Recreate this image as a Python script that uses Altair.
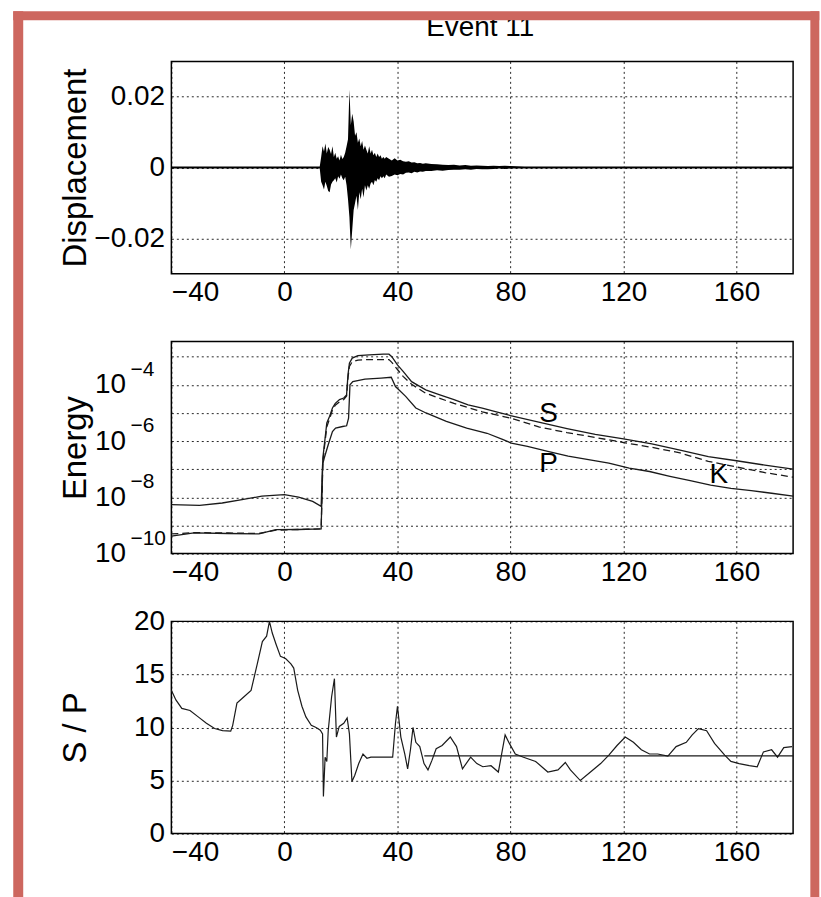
import altair as alt
import pandas as pd

# ---------------- data ----------------
# Panel 1: displacement envelope (upper / lower excursions of the trace)
disp_t = [-40, -20, 0, 12.5, 13.0, 13.5, 14.0, 14.5, 15.0, 15.5,
          16.0, 16.5, 17.0, 17.5, 18.0, 18.5, 19.0, 19.5, 20.0, 20.5,
          21.0, 21.5, 22.0, 22.5, 23.0, 23.5, 24.0, 24.5, 25.0, 25.5,
          26.0, 26.5, 27.0, 27.5, 28.0, 28.5, 29.0, 29.5, 30.0, 30.5,
          31.0, 31.5, 32.0, 32.5, 33.0, 33.5, 34.0, 34.5, 35.0, 35.5,
          36.0, 37, 38, 39, 40, 41, 42, 43, 44, 45,
          46, 47, 48, 49, 50, 52, 54, 56, 58, 60,
          62, 64, 66, 68, 70, 72, 74, 76, 78, 80,
          85, 90, 100, 120, 140, 160, 180]
disp_hi = [0.0003, 0.0003, 0.0003, 0.0003, 0.0030, 0.0060, 0.0045, 0.0068, 0.0040, 0.0058,
           0.0050, 0.0038, 0.0060, 0.0030, 0.0042, 0.0025, 0.0032, 0.0020, 0.0036, 0.0024,
           0.0030, 0.0042, 0.0060, 0.0080, 0.0220, 0.0120, 0.0152, 0.0130, 0.0090, 0.0100,
           0.0070, 0.0082, 0.0060, 0.0075, 0.0050, 0.0062, 0.0050, 0.0040, 0.0060, 0.0040,
           0.0050, 0.0035, 0.0042, 0.0030, 0.0040, 0.0030, 0.0035, 0.0025, 0.0030, 0.0025,
           0.0030, 0.0025, 0.0020, 0.0026, 0.0020, 0.0022, 0.0018, 0.0016, 0.0018, 0.0014,
           0.0015, 0.0012, 0.0013, 0.0011, 0.0012, 0.0010, 0.0009, 0.0008, 0.0007, 0.0008,
           0.0006, 0.0007, 0.0005, 0.0006, 0.0005, 0.0004, 0.0005, 0.0004, 0.0005, 0.0004,
           0.0003, 0.0003, 0.0003, 0.0003, 0.0003, 0.0003, 0.0003]
disp_lo = [-0.0003, -0.0003, -0.0003, -0.0003, -0.0040, -0.0050, -0.0062, -0.0040, -0.0052, -0.0066,
           -0.0070, -0.0048, -0.0040, -0.0036, -0.0030, -0.0042, -0.0025, -0.0032, -0.0020, -0.0030,
           -0.0036, -0.0026, -0.0050, -0.0090, -0.0140, -0.0232, -0.0176, -0.0120, -0.0100, -0.0080,
           -0.0120, -0.0070, -0.0090, -0.0060, -0.0085, -0.0050, -0.0065, -0.0050, -0.0060, -0.0045,
           -0.0040, -0.0050, -0.0035, -0.0040, -0.0030, -0.0036, -0.0025, -0.0030, -0.0025, -0.0030,
           -0.0020, -0.0026, -0.0024, -0.0020, -0.0022, -0.0018, -0.0020, -0.0015, -0.0014, -0.0016,
           -0.0012, -0.0014, -0.0011, -0.0012, -0.0010, -0.0010, -0.0008, -0.0009, -0.0007, -0.0006,
           -0.0006, -0.0005, -0.0006, -0.0004, -0.0005, -0.0005, -0.0004, -0.0003, -0.0004, -0.0003,
           -0.0003, -0.0003, -0.0003, -0.0003, -0.0003, -0.0003, -0.0003]

# Panel 2: energies
s_t = [-40, -32, -20, -9, -3, 5, 13, 13.6, 14, 15, 16, 17, 18, 19.5, 21, 22, 22.5, 23, 24, 26,
       30, 35, 37, 38, 40, 42, 45, 50, 55, 60, 65, 70, 75, 80, 90, 100, 110, 120, 130, 140,
       150, 160, 170, 180]
s_e = [4.2e-10, 5.5e-10, 5.2e-10, 5.0e-10, 7.1e-10, 7.2e-10, 7.6e-10, 2.5e-7, 5.6e-7, 4.4e-6,
       7.6e-6, 1.5e-5, 2.2e-5, 3.0e-5, 3.4e-5, 4.4e-5, 2.3e-4, 5.9e-4, 8.9e-4, 1.1e-3,
       1.17e-3, 1.23e-3, 1.23e-3, 1.0e-3, 5.1e-4, 3.0e-4, 1.3e-4, 6.6e-5, 4.4e-5, 3.0e-5,
       1.95e-5, 1.5e-5, 1.1e-5, 8.1e-6, 4.7e-6, 2.8e-6, 1.74e-6, 1.2e-6, 7.9e-7, 4.8e-7,
       2.8e-7, 2.0e-7, 1.4e-7, 1.0e-7]
k_t = [-40, -32, -20, -9, -3, 5, 13, 13.6, 14, 15, 16, 17, 18, 19.5, 21, 22, 22.5, 23, 24, 26,
       30, 37, 38, 40, 42, 45, 50, 55, 60, 70, 80, 90, 100, 110, 120, 130, 140, 150, 160, 170,
       180]
k_e = [5.0e-10, 5.6e-10, 5.4e-10, 5.2e-10, 6.8e-10, 7.2e-10, 7.6e-10, 1.6e-7, 4.5e-7, 3.2e-6,
       6.3e-6, 1.26e-5, 1.9e-5, 2.5e-5, 3.0e-5, 4.0e-5, 1.8e-4, 4.5e-4, 6.6e-4, 7.6e-4,
       7.9e-4, 7.9e-4, 6.3e-4, 3.5e-4, 2.0e-4, 1.05e-4, 5.0e-5, 3.3e-5, 2.2e-5, 1.1e-5,
       6.6e-6, 3.2e-6, 2.0e-6, 1.35e-6, 8.9e-7, 6.0e-7, 3.8e-7, 1.9e-7, 1.2e-7, 7.6e-8,
       5.2e-8]
p_t = [-40, -30, -22, -15, -8, 0, 5, 10, 13, 13.5, 14.1, 15.5, 17, 18.1, 20.6, 22, 22.7, 23.2,
       24.2, 28.5, 34.2, 37.8, 39.3, 42.9, 46.5, 50.1, 57.3, 64.5, 71.7, 77.4, 80.3, 86, 93.2,
       100.4, 107.6, 114.8, 122, 129.2, 136.4, 143.6, 150.8, 158, 165.2, 172.4, 180]
p_e = [5.5e-9, 5.2e-9, 6.3e-9, 8.3e-9, 1.1e-8, 1.26e-8, 1.02e-8, 7.2e-9, 4.8e-9, 1.45e-7,
       2.5e-7, 7.4e-7, 2.2e-6, 2.9e-6, 3.3e-6, 3.5e-6, 6.6e-6, 1.0e-4, 1.3e-4, 1.6e-4,
       1.74e-4, 1.86e-4, 8.7e-5, 3.9e-5, 1.5e-5, 1.0e-5, 5.0e-6, 2.9e-6, 1.9e-6, 1.12e-6,
       8.5e-7, 6.5e-7, 4.3e-7, 2.9e-7, 2.2e-7, 1.66e-7, 1.1e-7, 8.3e-8, 5.6e-8, 3.9e-8,
       2.7e-8, 2.1e-8, 1.74e-8, 1.4e-8, 1.1e-8]
lab_text = ["S", "P", "K"]
lab_t = [93.5, 93.5, 153.7]
lab_e = [9.3e-6, 1.5e-7, 6.3e-8]

# energy tick labels: base "10" with exponent
exp_vals = [1e-4, 1e-6, 1e-8, 1e-10]
exp_text = ["\u22124", "\u22126", "\u22128", "\u221210"]

# Panel 3: S / P ratio
sp_t = [-40.0, -38.4, -36.3, -33.4, -30.5, -27.6, -24.7, -21.9, -19.0, -18.3,
        -16.8, -14.7, -11.8, -9.6, -7.8, -6.3, -5.3, -4.3, -2.9, -1.4,
        0.4, 2.3, 3.3, 4.7, 6.2, 7.6, 9.5, 11.2, 12.7, 13.5,
        13.8, 14.4, 15.0, 15.5, 16.7, 17.7, 18.4, 19.4, 21.0, 22.2,
        23.0, 23.9, 24.9, 26.3, 27.8, 29.2, 30.6, 34.2, 38.3, 39.3,
        40.0, 41.2, 42.6, 43.6, 44.6, 45.5, 46.5, 47.9, 49.4, 50.8,
        52.2, 53.7, 55.8, 58.7, 60.9, 63.0, 65.9, 68.1, 70.2, 73.1,
        75.7, 78.1, 79.6, 81.7, 84.6, 88.9, 93.2, 96.8, 99.4, 101.2,
        104.7, 108.3, 111.9, 114.8, 117.7, 120.6, 123.5, 126.3, 129.2, 132.1,
        135.7, 138.6, 142.2, 144.3, 146.5, 149.4, 152.2, 155.8, 158.0, 160.9,
        164.5, 167.3, 169.5, 172.4, 174.5, 176.7, 179.6]
sp_v = [13.5, 12.6, 11.8, 11.6, 11.0, 10.4, 9.9, 9.7, 9.65, 10.2,
        12.3, 12.8, 13.5, 16.0, 18.1, 18.6, 20.0, 18.9, 17.8, 16.7,
        16.5, 16.0, 15.6, 13.5, 12.0, 11.0, 10.2, 10.0, 9.75, 9.4,
        3.5, 7.2, 6.8, 9.7, 12.9, 14.6, 9.1, 10.1, 10.4, 10.9,
        9.4, 4.9, 5.5, 6.6, 7.5, 7.1, 7.2, 7.2, 7.2, 10.4,
        12.0, 9.1, 7.5, 6.1, 7.9, 10.0, 8.6, 8.2, 6.6, 6.0,
        6.9, 8.0, 8.3, 9.1, 8.2, 6.1, 7.2, 6.6, 6.3, 6.4,
        5.8, 9.3, 8.5, 7.5, 7.2, 6.8, 5.8, 6.0, 6.7, 6.0,
        5.0, 5.8, 6.6, 7.4, 8.3, 9.1, 8.6, 7.9, 7.5, 7.5,
        7.3, 8.2, 8.6, 9.3, 9.9, 9.7, 8.5, 7.4, 6.8, 6.6,
        6.4, 6.3, 7.7, 7.9, 7.2, 8.1, 8.2]
mean_t = [49.5, 180]
mean_v = [7.33, 7.33]

# ---------------- styling ----------------
FONT = "Liberation Sans"
RED = "#cd675f"
INK = "#1a1a1a"
W, H = 624, 213
XDOM = [-40, 180]
X_TICKS = [-40, 0, 40, 80, 120, 160]

# page frame, in pixels relative to the top-left corner of the first plot
PX0, PY0 = -170.7, -58.3          # page corner
PX1, PY1 = 650.3, 838.7           # page far corner (821 x 897 page)


def x_enc():
    return alt.X(
        "t:Q",
        scale=alt.Scale(domain=XDOM, nice=False, zero=False),
        axis=alt.Axis(
            values=X_TICKS, title=None, labelPadding=5,
            labelExpr="datum.value < 0 ? '\u2212' + abs(datum.value) : '' + datum.value",
        ),
    )


def y_axis(title, values, label_expr, pad=7):
    return alt.Axis(
        values=values, title=title, labelExpr=label_expr, labelPadding=pad,
        titleX=-86, titleY=H / 2, titleAngle=270, titleBaseline="alphabetic",
        titleAlign="center",
    )


# ---- panel 1 ----
df_disp = pd.DataFrame({"t": disp_t, "hi": disp_hi, "lo": disp_lo})
disp = alt.Chart(df_disp).mark_area(color="black", interpolate="linear").encode(
    x=x_enc(),
    y=alt.Y("lo:Q", scale=alt.Scale(domain=[-0.03, 0.03], nice=False),
            axis=y_axis("Displacement", [-0.02, 0, 0.02],
                        "datum.value == 0 ? '0' : (datum.value < 0 ? '\u22120.02' : '0.02')")),
    y2="hi:Q",
)

one = pd.DataFrame({"k": [0], "title": ["Event 11"]})
title_txt = alt.Chart(one).mark_text(
    font=FONT, fontSize=28, color="black", baseline="alphabetic", align="center"
).encode(x=alt.value(310), y=alt.value(-26), text="title:N")


def frame_rect(x, x2, y, y2, color):
    return alt.Chart(one).mark_rect(color=color, strokeWidth=0).encode(
        x=alt.value(x), x2=alt.value(x2), y=alt.value(y), y2=alt.value(y2))


# white page margins (fix the page extent) and red frame on top
page_top = frame_rect(PX0, PX1, PY0, PY0 + 8, "white")
page_left = frame_rect(PX0, PX0 + 12, PY0, PY1, "white")
border_left = frame_rect(PX0 + 12, PX0 + 22, PY0 + 8, PY1, RED)
border_right = frame_rect(PX1 - 9, PX1, PY0 + 8, PY1, RED)
border_top = frame_rect(PX0 + 12, PX1, PY0 + 8, PY0 + 17, RED)

panel1 = alt.layer(disp, title_txt, page_top, page_left,
                   border_left, border_right, border_top).properties(width=W, height=H)

# ---- panel 2 ----
E_TICKS = [1e-10, 1e-9, 1e-8, 1e-7, 1e-6, 1e-5, 1e-4, 1e-3]
e_label = "(round(log(datum.value)/LN10) % 2 == 0) ? '10' : ''"
y_scale_e = alt.Scale(type="log", domain=[1e-10, 3.5e-3], nice=False)
e_axis = y_axis("Energy", E_TICKS, e_label, pad=46)
y_e = alt.Y("E:Q", scale=y_scale_e, axis=e_axis)

s_line = alt.Chart(pd.DataFrame({"t": s_t, "E": s_e})).mark_line(
    color=INK, strokeWidth=1.3).encode(x=x_enc(), y=y_e)
k_line = alt.Chart(pd.DataFrame({"t": k_t, "E": k_e})).mark_line(
    color=INK, strokeWidth=1.3, strokeDash=[7, 4]).encode(x=x_enc(), y=y_e)
p_line = alt.Chart(pd.DataFrame({"t": p_t, "E": p_e})).mark_line(
    color=INK, strokeWidth=1.3).encode(x=x_enc(), y=y_e)
labels = alt.Chart(pd.DataFrame({"t": lab_t, "E": lab_e, "lab": lab_text})).mark_text(
    font=FONT, fontSize=28, color="black", baseline="middle", align="center"
).encode(x=x_enc(), y=y_e, text="lab:N")
exps = alt.Chart(pd.DataFrame({"E": exp_vals, "ex": exp_text})).mark_text(
    font=FONT, fontSize=21, color="black", baseline="middle", align="left", dy=-15
).encode(x=alt.value(-41), y=y_e, text="ex:N")

panel2 = alt.layer(s_line, k_line, p_line, labels, exps).properties(width=W, height=H)

# ---- panel 3 ----
y_sp = alt.Y("v:Q", scale=alt.Scale(domain=[0, 20], nice=False),
             axis=y_axis("S / P", [0, 5, 10, 15, 20], "'' + datum.value"))
sp_line = alt.Chart(pd.DataFrame({"t": sp_t, "v": sp_v})).mark_line(
    color=INK, strokeWidth=1.2).encode(x=x_enc(), y=y_sp)
mean_line = alt.Chart(pd.DataFrame({"t": mean_t, "v": mean_v})).mark_line(
    color=INK, strokeWidth=1.3).encode(x=x_enc(), y=y_sp)

panel3 = alt.layer(sp_line, mean_line).properties(width=W, height=H)

chart = alt.vconcat(panel1, panel2, panel3, spacing=68, bounds="flush").properties(
    padding={"left": 0, "top": 0, "right": 0, "bottom": 0},
    background="white",
).configure(font=FONT).configure_view(
    stroke="black", strokeWidth=1.5
).configure_axis(
    domain=False, ticks=False, grid=True, gridColor="black", gridDash=[2, 3],
    gridWidth=1, gridOpacity=0.85,
    labelFont=FONT, labelFontSize=28, labelColor="black", labelOverlap=False,
    titleFont=FONT, titleFontSize=33, titleFontWeight="normal", titleColor="black",
)

chart.save("out.html", embed_options={"renderer": "svg", "actions": False})
